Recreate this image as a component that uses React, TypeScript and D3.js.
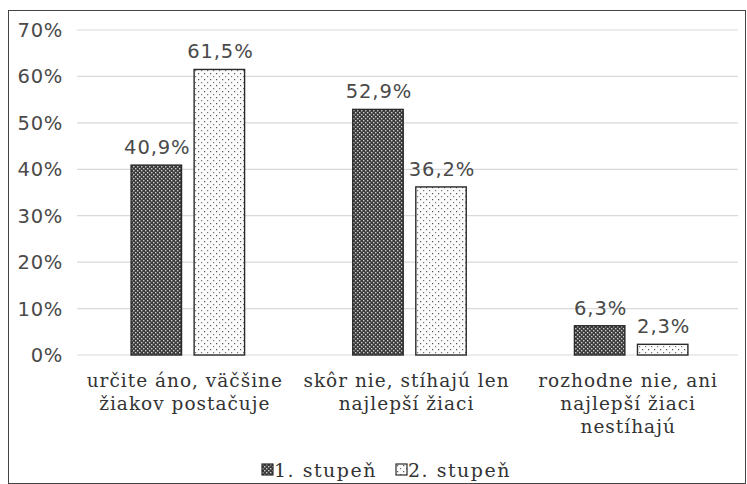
import React, { useEffect, useRef } from 'react';
import * as d3 from 'd3';

const categories = [
  ['určite áno, väčšine', 'žiakov postačuje'],
  ['skôr nie, stíhajú len', 'najlepší žiaci'],
  ['rozhodne nie, ani', 'najlepší žiaci', 'nestíhajú'],
];
const seriesNames = ['1. stupeň', '2. stupeň'];
const stupen1 = [40.9, 52.9, 6.3];
const stupen2 = [61.5, 36.2, 2.3];
const yTicks = [0, 10, 20, 30, 40, 50, 60, 70];

const W = 747;
const H = 484;
const M = { top: 30, right: 5, bottom: 129, left: 77 };

export default function App() {
  const ref = useRef<SVGSVGElement>(null);

  useEffect(() => {
    const svg = d3.select(ref.current);
    svg.selectAll('*').remove();
    const innerW = W - M.left - M.right;
    const innerH = H - M.top - M.bottom;
    const numFont = '"DejaVu Sans", Verdana, sans-serif';
    const txtFont = '"DejaVu Serif", serif';

    const defs = svg.append('defs');
    const p1 = defs
      .append('pattern')
      .attr('id', 'pat1')
      .attr('width', 4)
      .attr('height', 4)
      .attr('patternUnits', 'userSpaceOnUse');
    p1.append('rect').attr('width', 4).attr('height', 4).attr('fill', '#3a3a3a');
    p1.append('rect').attr('x', 0).attr('y', 0).attr('width', 1.4).attr('height', 1.4).attr('fill', '#d0d0d0');
    p1.append('rect').attr('x', 2).attr('y', 2).attr('width', 1.4).attr('height', 1.4).attr('fill', '#d0d0d0');

    const p2 = defs
      .append('pattern')
      .attr('id', 'pat2')
      .attr('width', 6)
      .attr('height', 6)
      .attr('patternUnits', 'userSpaceOnUse');
    p2.append('rect').attr('width', 6).attr('height', 6).attr('fill', '#fbfbfb');
    p2.append('rect').attr('x', 1).attr('y', 1).attr('width', 1.2).attr('height', 1.2).attr('fill', '#555');
    p2.append('rect').attr('x', 4).attr('y', 4).attr('width', 1.2).attr('height', 1.2).attr('fill', '#777');

    svg
      .append('rect')
      .attr('x', 8.5)
      .attr('y', 10.5)
      .attr('width', W - 10)
      .attr('height', H - 11)
      .attr('fill', 'white')
      .attr('stroke', '#444');

    const x0 = d3.scaleBand().domain(d3.range(3).map(String)).range([0, innerW]);
    const outer = (x0.bandwidth() - 113.5) / 2;
    const x1 = d3
      .scaleBand()
      .domain(['0', '1'])
      .range([outer, x0.bandwidth() - outer])
      .paddingInner(0.2);
    const y = d3.scaleLinear().domain([0, 70]).range([innerH, 0]);

    const g = svg.append('g').attr('transform', `translate(${M.left},${M.top})`);

    g.selectAll('line.grid')
      .data(yTicks)
      .join('line')
      .attr('x1', 0)
      .attr('x2', innerW - 4)
      .attr('y1', (d) => y(d))
      .attr('y2', (d) => y(d))
      .attr('stroke', '#d9d9d9')
      .attr('stroke-width', 1.2);

    g.selectAll('text.tick')
      .data(yTicks)
      .join('text')
      .attr('x', -14)
      .attr('y', (d) => y(d))
      .attr('dy', '0.36em')
      .attr('text-anchor', 'end')
      .attr('font-family', numFont)
      .attr('font-size', 19.5)
      .attr('letter-spacing', 0.7)
      .attr('fill', '#4a4a4a')
      .text((d) => d + '%');

    const series = [stupen1, stupen2];
    series.forEach((vals, si) => {
      const grp = g.append('g');
      grp
        .selectAll('rect')
        .data(vals)
        .join('rect')
        .attr('x', (_, i) => x0(String(i))! + x1(String(si))!)
        .attr('width', x1.bandwidth())
        .attr('y', (d) => y(d))
        .attr('height', (d) => innerH - y(d))
        .attr('fill', `url(#pat${si + 1})`)
        .attr('stroke', '#2a2a2a')
        .attr('stroke-width', 1.4);
      grp
        .selectAll('text')
        .data(vals)
        .join('text')
        .attr('x', (_, i) => x0(String(i))! + x1(String(si))! + x1.bandwidth() / 2 + 1)
        .attr('y', (d) => y(d) - 11)
        .attr('text-anchor', 'middle')
        .attr('font-family', numFont)
        .attr('font-size', 19.5)
        .attr('letter-spacing', 0.9)
        .attr('fill', '#4a4a4a')
        .text((d) => d3.format('.1f')(d).replace('.', ',') + '%');
    });

    categories.forEach((lines, i) => {
      const t = g
        .append('text')
        .attr('text-anchor', 'middle')
        .attr('font-family', txtFont)
        .attr('font-size', 18.5)
        .attr('letter-spacing', 1)
        .attr('fill', '#333');
      lines.forEach((ln, li) => {
        t.append('tspan')
          .attr('x', x0(String(i))! + x0.bandwidth() / 2 - 3)
          .attr('y', innerH + 32 + li * 23)
          .text(ln);
      });
    });

    const leg = svg.append('g').attr('transform', `translate(0,${470})`);
    const legX = [262, 396];
    seriesNames.forEach((name, i) => {
      leg
        .append('rect')
        .attr('x', legX[i])
        .attr('y', -6)
        .attr('width', 11)
        .attr('height', 11)
        .attr('fill', `url(#pat${i + 1})`)
        .attr('stroke', '#2a2a2a')
        .attr('stroke-width', 1.2);
      leg
        .append('text')
        .attr('x', legX[i] + 12)
        .attr('y', 0)
        .attr('dy', '0.35em')
        .attr('font-family', txtFont)
        .attr('font-size', 19)
        .attr('letter-spacing', 1.5)
        .attr('fill', '#333')
        .text(name);
    });
  }, []);

  return (
    <svg ref={ref} width={W} height={H} style={{ position: 'absolute', left: 0, top: 0 }} />
  );
}
